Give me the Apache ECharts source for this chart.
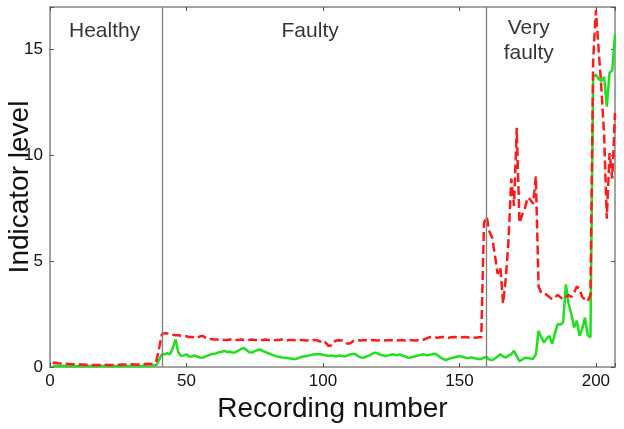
<!DOCTYPE html>
<html lang="en" style="height: 100%">
<head>
    <meta charset="utf-8">
</head>
<body style="height: 100%; margin: 0; background: #fff">
<div id="container" style="width: 624px; height: 429px"></div>
<script type="text/javascript" src="https://fastly.jsdelivr.net/npm/echarts@6.0.0/dist/echarts.min.js"></script>
<script type="text/javascript">

    // indicator values for recordings 1..207 (index + 1 = recording number)
    const redIndicator = [
        0.2, 0.2, 0.18, 0.17, 0.16, 0.15, 0.14, 0.13, 0.13, 0.12,
        0.12, 0.12, 0.11, 0.11, 0.1, 0.1, 0.1, 0.1, 0.1, 0.11,
        0.1, 0.1, 0.1, 0.11, 0.11, 0.12, 0.12, 0.12, 0.13, 0.13,
        0.12, 0.12, 0.13, 0.13, 0.14, 0.15, 0.14, 0.16, 0.3, 0.9,
        1.55, 1.6, 1.58, 1.55, 1.52, 1.5, 1.5, 1.48, 1.45, 1.45,
        1.42, 1.42, 1.4, 1.38, 1.45, 1.47, 1.38, 1.33, 1.32, 1.3,
        1.3, 1.28, 1.3, 1.27, 1.28, 1.3, 1.26, 1.28, 1.27, 1.3,
        1.28, 1.26, 1.28, 1.3, 1.27, 1.28, 1.26, 1.28, 1.3, 1.27,
        1.28, 1.26, 1.27, 1.28, 1.3, 1.27, 1.26, 1.28, 1.27, 1.26,
        1.28, 1.27, 1.26, 1.25, 1.27, 1.26, 1.28, 1.25, 1.2, 1.25,
        1.15, 1.0, 1.02, 1.2, 1.25, 1.26, 1.25, 1.2, 1.1, 1.12,
        1.22, 1.25, 1.26, 1.25, 1.27, 1.26, 1.25, 1.27, 1.26, 1.25,
        1.26, 1.27, 1.25, 1.26, 1.27, 1.26, 1.25, 1.26, 1.27, 1.25,
        1.26, 1.27, 1.26, 1.25, 1.27, 1.26, 1.3, 1.35, 1.4, 1.42,
        1.4, 1.38, 1.4, 1.42, 1.4, 1.38, 1.4, 1.42, 1.4, 1.38,
        1.4, 1.42, 1.4, 1.38, 1.4, 1.38, 1.4, 1.4, 6.8, 7.1,
        6.4, 6.1, 5.3, 4.4, 4.7, 3.0, 4.2, 6.0, 8.9, 7.6,
        11.3, 6.8, 7.2, 7.5, 8.0, 7.9, 7.7, 9.0, 3.8, 3.5,
        3.5, 3.4, 3.3, 3.2, 3.3, 3.4, 3.3, 3.2, 3.3, 3.4,
        3.3, 3.5, 3.8, 3.7, 3.3, 3.2, 3.1, 3.4, 14.5, 16.85,
        15.0, 13.2, 11.0, 7.0, 10.1, 8.9, 12.0
    ];

    const greenIndicator = [
        0.06, 0.06, 0.05, 0.05, 0.06, 0.05, 0.05, 0.06, 0.05, 0.05,
        0.05, 0.06, 0.05, 0.05, 0.05, 0.06, 0.05, 0.05, 0.06, 0.05,
        0.05, 0.05, 0.06, 0.05, 0.05, 0.06, 0.05, 0.05, 0.06, 0.05,
        0.06, 0.06, 0.05, 0.06, 0.07, 0.06, 0.07, 0.08, 0.1, 0.35,
        0.6, 0.6, 0.65, 0.6, 0.9, 1.3, 0.7, 0.52, 0.55, 0.6,
        0.5, 0.5, 0.55, 0.48, 0.45, 0.44, 0.5, 0.55, 0.6, 0.62,
        0.65, 0.7, 0.72, 0.76, 0.7, 0.72, 0.68, 0.7, 0.78, 0.85,
        0.9, 0.8, 0.7, 0.68, 0.75, 0.8, 0.83, 0.75, 0.7, 0.65,
        0.6, 0.55, 0.5, 0.48, 0.45, 0.44, 0.42, 0.4, 0.38, 0.38,
        0.42, 0.48, 0.5, 0.52, 0.55, 0.58, 0.6, 0.6, 0.6, 0.58,
        0.55, 0.52, 0.55, 0.52, 0.5, 0.55, 0.52, 0.5, 0.55, 0.6,
        0.62, 0.6, 0.5, 0.45, 0.44, 0.5, 0.55, 0.62, 0.68, 0.65,
        0.58, 0.55, 0.52, 0.55, 0.58, 0.6, 0.55, 0.6, 0.55, 0.5,
        0.45, 0.44, 0.48, 0.52, 0.55, 0.58, 0.6, 0.55, 0.58, 0.6,
        0.63, 0.55, 0.45, 0.38, 0.33, 0.38, 0.42, 0.45, 0.48, 0.52,
        0.48, 0.45, 0.42, 0.45, 0.44, 0.4, 0.38, 0.38, 0.45, 0.47,
        0.35, 0.33, 0.4, 0.5, 0.6, 0.5, 0.44, 0.55, 0.6, 0.76,
        0.5, 0.28, 0.35, 0.44, 0.42, 0.4, 0.38, 0.6, 1.7, 1.4,
        1.15, 1.35, 1.47, 1.09, 1.6, 2.03, 2.0, 2.1, 3.9, 3.0,
        2.5, 1.86, 2.18, 1.47, 1.8, 2.33, 1.5, 1.4, 13.7, 13.8,
        13.6, 13.5, 13.7, 12.3, 13.9, 14.0, 15.7
    ];

    const boundaries = [41, 160];

    const regionNames = ['Healthy', 'Faulty', 'Very\nfaulty'];
    const regionX = [20, 95.3, 175.4];
    const regionY = [15.85, 15.85, 15.4];

    const xTicks = [0, 50, 100, 150, 200];
    const yTicks = [0, 5, 10, 15];

    const fontFamily = '"Liberation Sans", Arial, sans-serif';
    const frameColor = '#858585';

    var dom = document.getElementById('container');
    var myChart = echarts.init(dom, null, {renderer: 'canvas'});

    function toPairs(values) {
        return values.map((v, i) => [i + 1, v]);
    }

    function tickFormatter(ticks) {
        return v => ticks.includes(v) ? String(v) : '';
    }

    function frameAxis() {
        return {
            axisLine: {show: true, onZero: false, lineStyle: {color: frameColor, width: 1.5}},
            axisTick: {show: true, inside: true, length: 4, lineStyle: {color: '#555', width: 1}},
            splitLine: {show: false}
        };
    }

    const option = {
        backgroundColor: '#fff',
        animation: false,
        grid: {left: 50, right: 9, top: 7, bottom: 62, containLabel: false, outerBoundsMode: 'none'},
        xAxis: [
            Object.assign({
                type: 'value', min: 0, max: 207, interval: 50, position: 'bottom',
                axisLabel: {
                    fontSize: 17, color: '#111', fontFamily: fontFamily, margin: 6,
                    formatter: tickFormatter(xTicks)
                },
                name: 'Recording number', nameLocation: 'middle', nameGap: 26,
                nameTextStyle: {fontSize: 28, color: '#111', fontFamily: fontFamily}
            }, frameAxis()),
            Object.assign({
                type: 'value', min: 0, max: 207, interval: 50, position: 'top',
                axisLabel: {show: false}
            }, frameAxis())
        ],
        yAxis: [
            Object.assign({
                type: 'value', min: 0, max: 17, interval: 5, position: 'left',
                axisLabel: {
                    fontSize: 17, color: '#111', fontFamily: fontFamily, margin: 7,
                    formatter: tickFormatter(yTicks)
                },
                name: 'Indicator level', nameLocation: 'middle', nameGap: 16,
                nameMoveOverlap: false,
                nameTextStyle: {fontSize: 28, color: '#111', fontFamily: fontFamily}
            }, frameAxis()),
            Object.assign({
                type: 'value', min: 0, max: 17, interval: 5, position: 'right',
                axisLabel: {show: false}
            }, frameAxis())
        ],
        series: [
            {
                type: 'line',
                data: toPairs(greenIndicator),
                showSymbol: false,
                lineStyle: {color: '#1fe01f', width: 2.5},
                markLine: {
                    silent: true,
                    symbol: ['none', 'none'],
                    label: {show: false},
                    lineStyle: {color: '#7d7d7d', width: 1.3, type: 'solid'},
                    data: boundaries.map(b => ({xAxis: b}))
                },
                z: 2
            },
            {
                type: 'line',
                data: toPairs(redIndicator),
                showSymbol: false,
                lineStyle: {color: '#ff1a1a', width: 2.5, type: [9, 4]},
                z: 3
            },
            {
                type: 'scatter',
                symbolSize: 0,
                data: regionNames.map((n, i) => ({value: [regionX[i], regionY[i]], name: n})),
                label: {
                    show: true,
                    position: 'inside',
                    formatter: p => p.name,
                    fontSize: 21,
                    lineHeight: 25,
                    color: '#000',
                    fontFamily: fontFamily,
                    align: 'center'
                },
                emphasis: {disabled: true},
                z: 4
            }
        ]
    };

    myChart.setOption(option);

</script>
</body>
</html>
